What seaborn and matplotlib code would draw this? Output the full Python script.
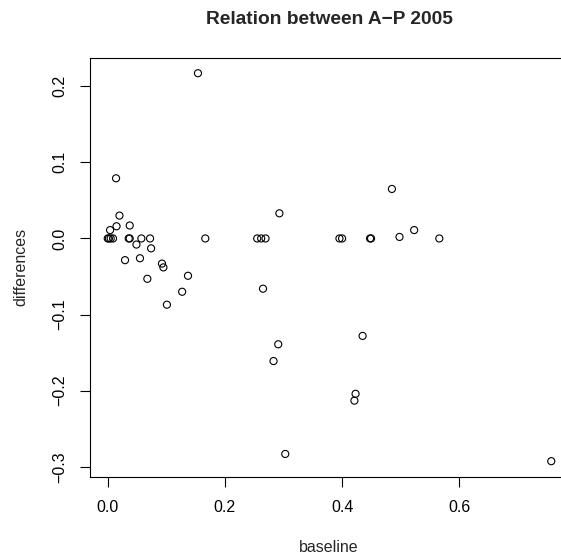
import matplotlib
matplotlib.use("Agg")
import matplotlib.pyplot as plt
import seaborn as sns
import pandas as pd
import numpy as np

baseline = [0.154, 0.0142, 0.485, 0.293, 0.020, 0.015, 0.0375, 0.004, 0.523, 0.498,
            0.000, 0.002, 0.005, 0.009, 0.0358, 0.0375, 0.0574, 0.0722, 0.1665,
            0.2551, 0.2619, 0.2693, 0.3955, 0.400, 0.4477, 0.4494, 0.5659,
            0.049, 0.074, 0.0295, 0.055, 0.0926, 0.095, 0.0676, 0.137, 0.127,
            0.101, 0.265, 0.435, 0.291, 0.283, 0.423, 0.421, 0.303, 0.757]
differences = [0.217, 0.079, 0.065, 0.033, 0.030, 0.016, 0.017, 0.011, 0.011, 0.002,
               0.0, 0.0, 0.0, 0.0, 0.0, 0.0, 0.0, 0.0, 0.0,
               0.0, 0.0, 0.0, 0.0, 0.0, 0.0, 0.0, 0.0,
               -0.008, -0.013, -0.0285, -0.026, -0.033, -0.038, -0.053, -0.049, -0.070,
               -0.087, -0.066, -0.128, -0.139, -0.161, -0.204, -0.213, -0.283, -0.2925]

xticks = [0.0, 0.2, 0.4, 0.6]
yticks = [-0.3, -0.2, -0.1, 0.0, 0.1, 0.2]
title = "Relation between A\u2212P 2005"
xlabel = "baseline"
ylabel = "differences"

sns.set_style("white")
plt.rcParams['font.family'] = ['Liberation Sans', 'DejaVu Sans']

W, H = 561, 557
fig = plt.figure(figsize=(W / 100, H / 100), dpi=100)
left, right, top, bottom = 90, 569, 57.7, 476.7
ax = fig.add_axes([left / W, (H - bottom) / H, (right - left) / W, (bottom - top) / H])

df = pd.DataFrame({"baseline": baseline, "differences": differences})
sns.scatterplot(data=df, x="baseline", y="differences", ax=ax, marker="o", s=26,
                facecolor="none", edgecolor="black", linewidth=0.8)

xr = max(baseline) - min(baseline)
yr = max(differences) - min(differences)
ax.set_xlim(min(baseline) - 0.04 * xr, max(baseline) + 0.04 * xr)
ax.set_ylim(min(differences) - 0.04 * yr, max(differences) + 0.04 * yr)

ax.set_xticks(xticks)
ax.set_xticklabels([f"{v:.1f}" for v in xticks])
ax.set_yticks(yticks)
ax.set_yticklabels([f"{v:.1f}".replace("-", "\u2212") for v in yticks])
ax.tick_params(axis="both", direction="out", length=7.5, width=0.8, color="black",
               labelsize=11.5, labelcolor="black", bottom=True, left=True)
ax.tick_params(axis="x", pad=9)
ax.tick_params(axis="y", pad=9, labelrotation=90)
for lab in ax.get_yticklabels():
    lab.set_va("center")
for sp in ax.spines.values():
    sp.set_visible(True)
    sp.set_color("black")
    sp.set_linewidth(0.8)

ax.set_xlabel("")
ax.set_ylabel("")
fig.text(329 / W, 1 - 548 / H, xlabel, ha="center", va="center", fontsize=11.5)
fig.text(21 / W, 1 - 267 / H, ylabel, ha="center", va="center", rotation=90, fontsize=11.5)
fig.text(329 / W, 1 - 23.5 / H, title, ha="center", va="baseline", fontsize=13.8,
         fontweight="bold")

fig.savefig("out.png", dpi=100)
